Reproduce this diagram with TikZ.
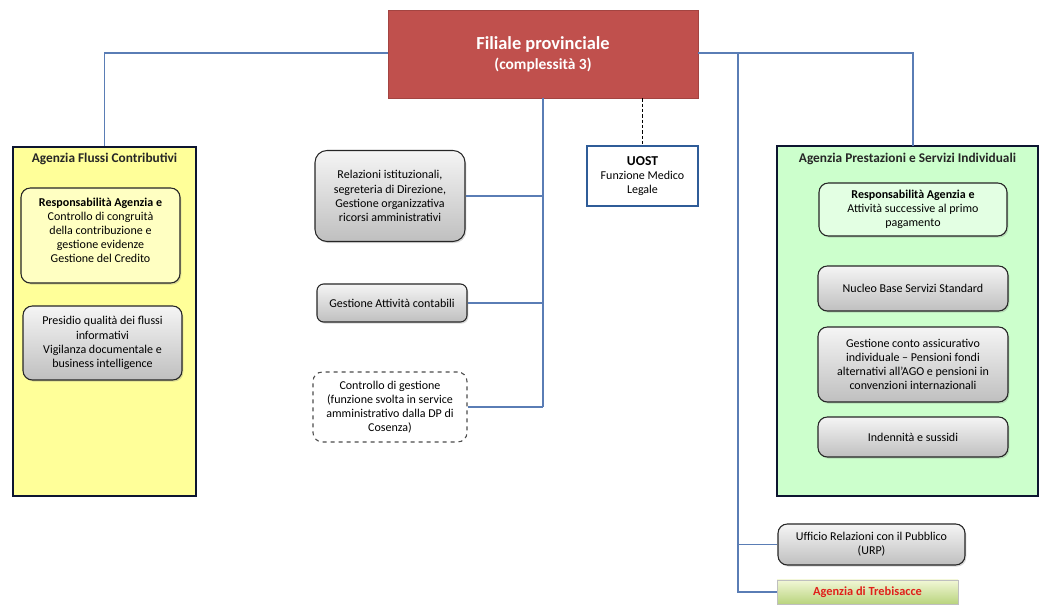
\documentclass[tikz,border=0pt]{standalone}
\usepackage{fontspec}
\setmainfont{Carlito}
\usetikzlibrary{shadows}
\definecolor{rootred}{HTML}{C0504D}
\definecolor{linkblue}{HTML}{5A7DB5}
\definecolor{boxyellow}{HTML}{FFFF99}
\definecolor{boxgreen}{HTML}{CCFFCC}
\definecolor{framenavy}{HTML}{0D1530}
\definecolor{uostblue}{HTML}{2F5C98}
\definecolor{trebred}{HTML}{E0201A}
\definecolor{trebtop}{HTML}{F2F7D6}
\definecolor{trebbot}{HTML}{B9D47E}
\begin{document}
\begin{tikzpicture}[x=0.75pt,y=-0.75pt,
  font=\fontsize{9}{10.6}\selectfont,
  link/.style={draw=linkblue,line width=1pt},
  container/.style={draw=framenavy,line width=1.8pt,inner sep=0pt},
  ctitle/.style={font=\fontsize{10}{12}\selectfont\bfseries,text=black!85},
  inbox/.style={draw=black!85,line width=0.8pt,rounded corners=7pt,align=center,inner sep=0pt,
     drop shadow={opacity=0.3,shadow xshift=1pt,shadow yshift=-1.2pt}},
  graybox/.style={inbox,top color=white!96!black,bottom color=black!25},
  yelbox/.style={inbox,fill=boxyellow!60!white},
  grnbox/.style={inbox,fill=boxgreen!55!white}
]
\useasboundingbox (0,0) rectangle (1040,605);

% root
\node[fill=rootred,draw=rootred!85!black,line width=0.4pt,minimum width=232.5pt,minimum height=66pt,
  align=center,text=white,inner sep=0pt] (root) at (543,54)
  {{\fontsize{13.8}{16}\selectfont\bfseries Filiale provinciale}\\[3pt]{\fontsize{11.6}{13}\selectfont\bfseries (complessità 3)}};

% left container
\node[container,fill=boxyellow,minimum width=137.25pt,minimum height=261.75pt] (lc) at (104.5,321.5) {};
\node[ctitle] (lct) at (104.5,159) {Agenzia Flussi Contributivi};
\node[yelbox,minimum width=119.25pt,minimum height=71.25pt] (lb1) at (100.5,235.5)
  {\textbf{Responsabilità Agenzia e}\\Controllo di congruità\\della contribuzione e\\gestione evidenze\\Gestione del Credito\\[-2.5pt]\mbox{}};
\node[graybox,minimum width=119.25pt,minimum height=55.5pt] (lb2) at (102.5,343)
  {Presidio qualità dei flussi\\informativi\\Vigilanza documentale e\\business intelligence};

% centre boxes
\node[graybox,rounded corners=9pt,minimum width=112.5pt,minimum height=68.25pt] (rel) at (390,196)
  {Relazioni istituzionali,\\segreteria di Direzione,\\Gestione organizzativa\\ricorsi amministrativi};
\node[graybox,rounded corners=5pt,minimum width=112.5pt,minimum height=28.5pt] (cont) at (392,303)
  {Gestione Attività contabili};
\node[draw=black!70,dashed,line width=0.8pt,rounded corners=7pt,fill=white,align=center,inner sep=0pt,
  minimum width=115.5pt,minimum height=52.5pt] (ctrl) at (390,407)
  {Controllo di gestione\\(funzione svolta in service\\amministrativo dalla DP di\\Cosenza)};

% UOST
\node[draw=uostblue,line width=2.2pt,fill=white,align=center,inner sep=0pt,
  minimum width=83.25pt,minimum height=45pt] (uost) at (642.5,176)
  {{\fontsize{10.2}{11}\selectfont\bfseries UOST}\\Funzione Medico\\Legale};

% right container
\node[container,fill=boxgreen,minimum width=195.75pt,minimum height=262.5pt] (rc) at (907.5,321) {};
\node[ctitle] (rct) at (907.5,159) {Agenzia Prestazioni e Servizi Individuali};
\node[grnbox,minimum width=141pt,minimum height=39.75pt] (rb1) at (913,209.5)
  {\textbf{Responsabilità Agenzia e}\\Attività successive al primo\\pagamento};
\node[graybox,minimum width=142.5pt,minimum height=33.75pt] (rb2) at (913,288.5)
  {Nucleo Base Servizi Standard};
\node[graybox,minimum width=142.5pt,minimum height=56.25pt] (rb3) at (913,364.5)
  {Gestione conto assicurativo\\individuale -- Pensioni fondi\\alternativi all’AGO e pensioni in\\convenzioni internazionali};
\node[graybox,minimum width=142.5pt,minimum height=30pt] (rb4) at (913,437)
  {Indennità e sussidi};

% bottom right
\node[graybox,minimum width=140.25pt,minimum height=30.75pt] (urp) at (871.5,544.5)
  {Ufficio Relazioni con il Pubblico\\(URP)};
\node[draw=black!25,line width=0.5pt,top color=trebtop,bottom color=trebbot,
  minimum width=135.75pt,minimum height=18pt,inner sep=0pt,text=trebred,
  font=\fontsize{9.3}{10}\selectfont\bfseries] (treb) at (867.5,592) {Agenzia di Trebisacce};

% connectors
\coordinate (rtop) at (913,146);
\coordinate (tb) at (543,407);
\coordinate (rb) at (738,53);
\draw[link] (root.west |- rb) -| (lc.north);
\draw[link] (root.east |- rb) -| (rtop);
\draw[link] (root.south) -- (tb);
\draw[link] (rel.east) -- (rel.east -| tb);
\draw[link] (cont.east) -- (cont.east -| tb);
\draw[link] (ctrl.east) -- (tb);
\draw[black,dashed,dash pattern=on 2.5pt off 1.5pt,line width=0.8pt] (uost.north |- root.south) -- (uost.north);
\draw[link] (rb) |- (treb.west);
\draw[link] (urp.west -| rb) -- (urp.west);
\end{tikzpicture}
\end{document}
